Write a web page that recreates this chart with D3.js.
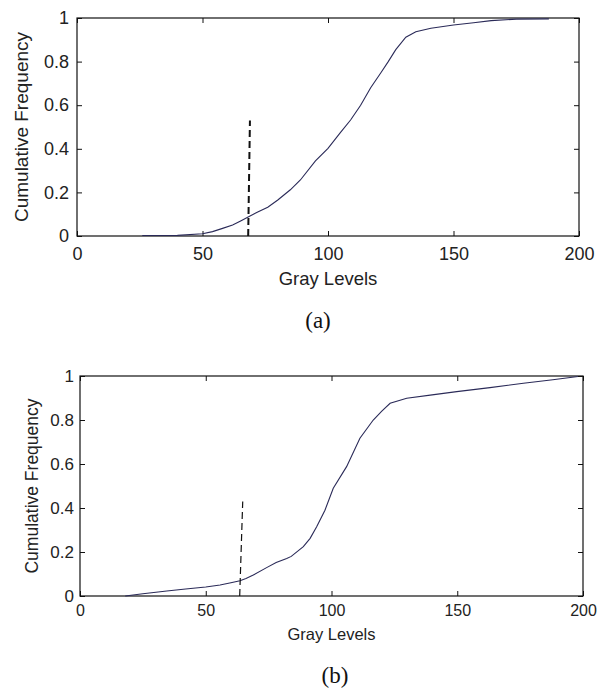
<!DOCTYPE html>
<meta charset="utf-8">
<style>
body { margin: 0; background: #ffffff; }
.tick line { stroke: #111; }
.tick text { fill: #222; font-family: "Liberation Sans", Arial, sans-serif; }
.caption { font-family: "Liberation Serif", "DejaVu Serif", serif; fill: #111; }
</style>
<body>
<script src="https://d3js.org/d3.v7.min.js"></script>
<script>

// panel (a) cumulative frequency curve
var grayA = [26, 40, 50, 54, 58, 62, 65, 68, 72, 76, 80, 85, 89, 95, 100, 105, 109, 113, 117, 121, 124, 127, 131, 135, 141, 150, 158, 165, 175, 188];
var cumA  = [0.002, 0.003, 0.01, 0.02, 0.035, 0.05, 0.068, 0.086, 0.11, 0.132, 0.165, 0.212, 0.257, 0.345, 0.402, 0.475, 0.532, 0.6, 0.68, 0.748, 0.8, 0.855, 0.912, 0.937, 0.953, 0.968, 0.978, 0.988, 0.995, 0.996];

// panel (b) cumulative frequency curve
var grayB = [18, 25, 34.5, 42, 50, 55.7, 60, 63.6, 66, 68.9, 74.2, 78, 82.2, 84, 88.8, 91.5, 94.1, 97.4, 100.7, 106, 111.3, 116.6, 120, 123.3, 129.9, 140, 149.8, 163, 176.3, 188, 198];
var cumB  = [0, 0.01, 0.023, 0.032, 0.041, 0.05, 0.06, 0.069, 0.08, 0.095, 0.129, 0.152, 0.17, 0.18, 0.224, 0.262, 0.315, 0.39, 0.49, 0.588, 0.717, 0.8, 0.84, 0.876, 0.899, 0.914, 0.929, 0.947, 0.967, 0.983, 0.998];

// threshold markers (dashed), [gray, cum] at bottom and top
var threshA = [[68.2, 0], [68.9, 0.53]];
var threshB = [[63.5, 0], [64.7, 0.43]];

var xTicks = [0, 50, 100, 150, 200];
var yTicks = [0, 0.2, 0.4, 0.6, 0.8, 1];

var svg = d3.select("body").append("svg")
  .attr("width", 597)
  .attr("height", 694);

//one MATLAB style panel
function panel(p) {
  var x = d3.scaleLinear().domain([0, 200]).range([p.left, p.right]);
  var y = d3.scaleLinear().domain([0, 1]).range([p.bottom, p.top]);
  var g = svg.append("g");

  var yFmt = function(d) { return d === 0 || d === 1 ? d3.format("d")(d) : d3.format(".1f")(d); };

  g.append("g")
    .attr("transform", "translate(0," + p.bottom + ")")
    .call(d3.axisBottom(x).tickValues(xTicks).tickSizeInner(-5).tickSizeOuter(0).tickPadding(p.xPad))
    .call(function(s) { s.select(".domain").remove(); })
    .selectAll("text").style("font-size", p.xFont + "px");

  g.append("g")
    .attr("transform", "translate(0," + p.top + ")")
    .call(d3.axisTop(x).tickValues(xTicks).tickSizeInner(-5).tickSizeOuter(0).tickFormat(""))
    .call(function(s) { s.select(".domain").remove(); });

  g.append("g")
    .attr("transform", "translate(" + p.left + ",0)")
    .call(d3.axisLeft(y).tickValues(yTicks).tickSizeInner(-5).tickSizeOuter(0).tickPadding(p.yPad).tickFormat(yFmt))
    .call(function(s) { s.select(".domain").remove(); })
    .selectAll("text").style("font-size", p.yFont + "px");

  g.append("g")
    .attr("transform", "translate(" + p.right + ",0)")
    .call(d3.axisRight(y).tickValues(yTicks).tickSizeInner(-5).tickSizeOuter(0).tickFormat(""))
    .call(function(s) { s.select(".domain").remove(); });

  //box around the plot
  g.append("rect")
    .attr("x", x(0)).attr("y", y(1))
    .attr("width", x(200) - x(0)).attr("height", y(0) - y(1))
    .attr("fill", "none").attr("stroke", "#111").attr("stroke-width", 1.2);

  var line = d3.line()
    .x(function(d) { return x(d[0]); })
    .y(function(d) { return y(d[1]); });

  g.append("path")
    .datum(d3.zip(p.gray, p.cum))
    .attr("d", line)
    .attr("fill", "none")
    .attr("stroke", "#2a2a58")
    .attr("stroke-width", 1.1);

  g.append("path")
    .datum(p.thresh)
    .attr("d", line)
    .attr("fill", "none")
    .attr("stroke", "#111")
    .attr("stroke-width", p.dashW)
    .attr("stroke-dasharray", "7,4");

  //axis titles
  g.append("text")
    .attr("x", (p.left + p.right) / 2)
    .attr("y", p.xLabelY)
    .attr("text-anchor", "middle")
    .style("font-family", "Liberation Sans, Arial, sans-serif")
    .style("font-size", p.labFont + "px")
    .style("fill", "#222")
    .text("Gray Levels");

  g.append("text")
    .attr("transform", "translate(" + p.yLabelX + "," + (p.top + p.bottom) / 2 + ") rotate(-90)")
    .attr("text-anchor", "middle")
    .style("font-family", "Liberation Sans, Arial, sans-serif")
    .style("font-size", p.yLabFont + "px")
    .style("fill", "#222")
    .text("Cumulative Frequency");

  g.append("text")
    .attr("class", "caption")
    .attr("x", p.capX)
    .attr("y", p.capY)
    .attr("text-anchor", "middle")
    .style("font-size", "23px")
    .text(p.caption);
}

panel({left: 77, right: 579, top: 18, bottom: 236, gray: grayA, cum: cumA, thresh: threshA, dashW: 2,
  xFont: 18, yFont: 18, xPad: 11, yPad: 8, labFont: 18.5, yLabFont: 19, xLabelY: 285, yLabelX: 28,
  caption: "(a)", capX: 318, capY: 328});

panel({left: 80, right: 583, top: 376, bottom: 596, gray: grayB, cum: cumB, thresh: threshB, dashW: 1.2,
  xFont: 16, yFont: 17, xPad: 9, yPad: 6, labFont: 16.5, yLabFont: 17.5, xLabelY: 640, yLabelX: 38,
  caption: "(b)", capX: 335, capY: 683});

</script>
</body>
